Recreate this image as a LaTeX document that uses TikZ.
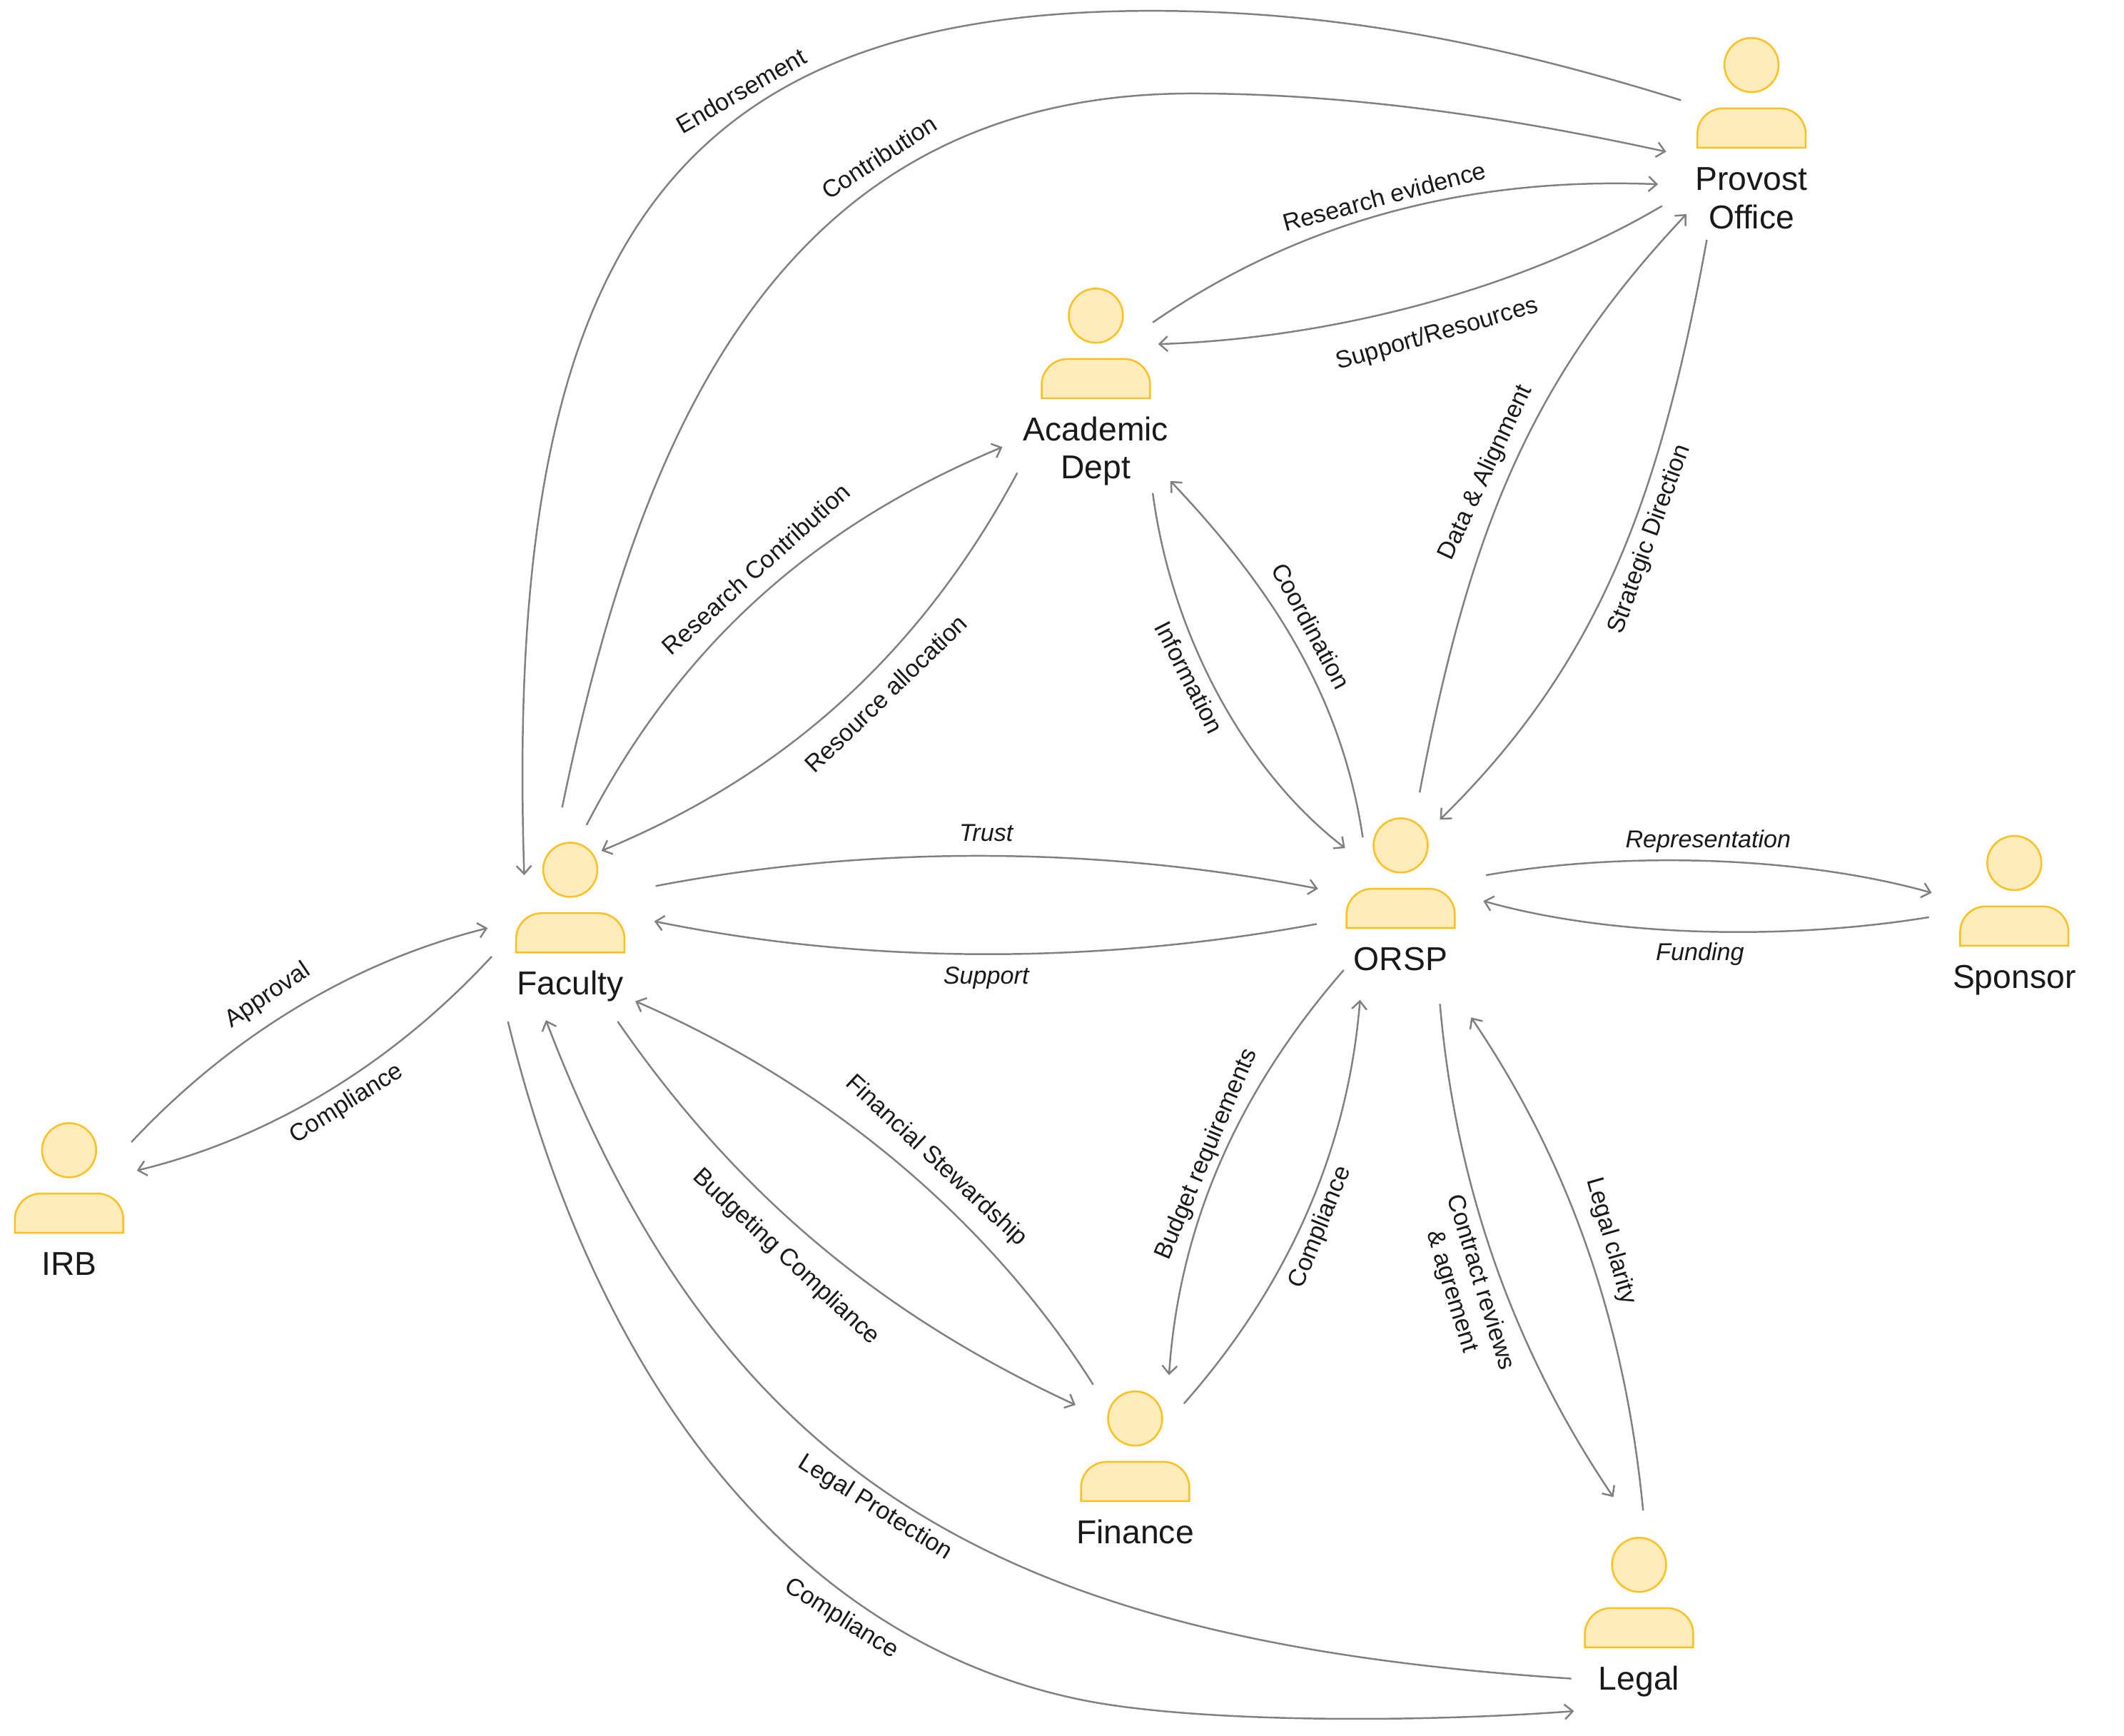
\documentclass[tikz,border=0pt]{standalone}
\usepackage{fontspec}
\setmainfont{Liberation Sans}
\usetikzlibrary{positioning, arrows.meta, calc}
\definecolor{personfill}{HTML}{FFECBD}
\definecolor{personline}{HTML}{FFC01E}
\definecolor{wiregray}{HTML}{808080}
\tikzset{
  personhead/.style={circle, draw=personline, fill=personfill, line width=1.3pt, minimum size=40pt, inner sep=0pt},
  personname/.style={below=52pt of #1, inner sep=0pt, align=center, text=black!90, font=\fontsize{24.4}{28}\selectfont, execute at begin node=\strut},
  personbody/.pic={
    \draw[draw=personline, fill=personfill, line width=1.3pt]
      (-40,61) [rounded corners=19pt] -- (-40,32) -- (40,32) [sharp corners] -- (40,61) -- cycle;
  },
  wire/.style={->, >={Straight Barb[length=6pt,width=11pt]}, wiregray, line width=1.3pt},
  flow/.style={text=black!90, inner sep=2pt, align=center, font=\fontsize{18}{22}\selectfont},
  flowit/.style={flow, font=\fontsize{18}{22}\selectfont\itshape}
}
\begin{document}
\begin{tikzpicture}[x=1pt, y=-1pt]
    \useasboundingbox (0,0) rectangle (1568,1281);
    %% people
    \node[personhead] (provost)  at (1293,  48) {};
    \node[personhead] (academic) at ( 809, 233) {};
    \node[personhead] (faculty)  at ( 421, 642) {};
    \node[personhead] (orsp)     at (1034, 624) {};
    \node[personhead] (sponsor)  at (1487, 637) {};
    \node[personhead] (irb)      at (  51, 849) {};
    \node[personhead] (finance)  at ( 838,1047) {};
    \node[personhead] (legal)    at (1210,1155) {};
    \pic at (provost)  {personbody};
    \pic at (academic) {personbody};
    \pic at (faculty)  {personbody};
    \pic at (orsp)     {personbody};
    \pic at (sponsor)  {personbody};
    \pic at (irb)      {personbody};
    \pic at (finance)  {personbody};
    \pic at (legal)    {personbody};
    \node[personname=provost, yshift=-3pt]  (provostname)  {Provost\\Office};
    \node[personname=academic, yshift=-2pt] (academicname) {Academic\\Dept};
    \node[personname=faculty]  (facultyname)  {Faculty};
    \node[personname=orsp]     (orspname)     {ORSP};
    \node[personname=sponsor]  (sponsorname)  {Sponsor};
    \node[personname=irb]      (irbname)      {IRB};
    \node[personname=finance]  (financename)  {Finance};
    \node[personname=legal]    (legalname)    {Legal};
    %% long arcs across the top
    \draw[wire] ($(provost)+(-52,26)$) .. controls (1100,30) and (980,8) .. (850,8)
                .. controls (490,8) and (372,190) .. ($(faculty)+(-34,4)$);
    \draw[wire] ($(faculty)+(-6,-46)$) .. controls (470,330) and (570,69) .. (880,69)
                .. controls (1000,69) and (1120,88) .. ($(provost)+(-63,64)$);
    %% academic dept and provost
    \draw[wire] ($(academic)+(42,5)$) .. controls (950,170) and (1070,130) .. ($(provost)+(-69,88)$);
    \draw[wire] ($(provost)+(-66,104)$) .. controls (1120,215) and (980,250) .. ($(academic)+(46,21)$);
    %% faculty and academic dept
    \draw[wire] ($(faculty)+(12,-33)$) .. controls (510,460) and (620,380) .. ($(academic)+(-69,97)$);
    \draw[wire] ($(academic)+(-58,116)$) .. controls (670,500) and (560,580) .. ($(faculty)+(23,-14)$);
    %% academic dept and orsp
    \draw[wire] ($(academic)+(42,131)$) .. controls (865,470) and (920,570) .. ($(orsp)+(-41,2)$);
    \draw[wire] ($(orsp)+(-28,-6)$) .. controls (990,510) and (935,430) .. ($(academic)+(55,122)$);
    %% orsp and provost
    \draw[wire] ($(orsp)+(14,-39)$) .. controls (1085,390) and (1130,280) .. ($(provost)+(-48,110)$);
    \draw[wire] ($(provost)+(-33,129)$) .. controls (1225,370) and (1180,490) .. ($(orsp)+(29,-19)$);
    %% horizontal pairs
    \draw[wire] ($(faculty)+(63,12)$) .. controls (640,624) and (810,624) .. ($(orsp)+(-61,32)$);
    \draw[wire] ($(orsp)+(-62,58)$) .. controls (810,712) and (640,712) .. ($(faculty)+(62,38)$);
    \draw[wire] ($(orsp)+(63,22)$) .. controls (1200,628) and (1330,632) .. ($(sponsor)+(-61,22)$);
    \draw[wire] ($(sponsor)+(-63,40)$) .. controls (1320,694) and (1190,692) .. ($(orsp)+(61,41)$);
    %% irb and faculty
    \draw[wire] ($(irb)+(46,-6)$) .. controls (170,765) and (260,710) .. ($(faculty)+(-61,43)$);
    \draw[wire] ($(faculty)+(-58,64)$) .. controls (290,785) and (200,840) .. ($(irb)+(50,15)$);
    %% faculty and finance
    \draw[wire] ($(faculty)+(35,112)$) .. controls (550,890) and (660,975) .. ($(finance)+(-44,-10)$);
    \draw[wire] ($(finance)+(-31,-25)$) .. controls (730,900) and (610,800) .. ($(faculty)+(48,97)$);
    %% orsp and finance
    \draw[wire] ($(orsp)+(-42,92)$) .. controls (910,810) and (870,910) .. ($(finance)+(25,-32)$);
    \draw[wire] ($(finance)+(36,-11)$) .. controls (950,950) and (995,850) .. ($(orsp)+(-30,114)$);
    %% orsp and legal
    \draw[wire] ($(orsp)+(29,117)$) .. controls (1075,880) and (1120,1000) .. ($(legal)+(-19,-50)$);
    \draw[wire] ($(legal)+(3,-40)$) .. controls (1200,980) and (1160,860) .. ($(orsp)+(52,127)$);
    %% long arcs across the bottom
    \draw[wire] ($(legal)+(-50,84)$) .. controls (745,1212) and (535,1098) .. ($(faculty)+(-18,111)$);
    \draw[wire] ($(faculty)+(-46,112)$) .. controls (445,1040) and (600,1215) .. (800,1255)
                .. controls (880,1271) and (1040,1272) .. ($(legal)+(-48,108)$);
    %% labels
    \node[flow, rotate=30]  (endorsement) at ( 547,  67) {Endorsement};
    \node[flow, rotate=33]  (contribution) at ( 649, 116) {Contribution};
    \node[flow, rotate=15]  (evidence) at (1022, 145) {Research evidence};
    \node[flow, rotate=16]  (resources) at (1061, 247) {Support/Resources};
    \node[flow, rotate=42]  (researchcontrib) at ( 558, 420) {Research Contribution};
    \node[flow, rotate=44]  (allocation) at ( 654, 512) {Resource allocation};
    \node[flow, rotate=-63] (information) at ( 878, 500) {Information};
    \node[flow, rotate=-62] (coordination) at ( 968, 462) {Coordination};
    \node[flow, rotate=65]  (alignment) at (1097, 349) {Data \& Alignment};
    \node[flow, rotate=70]  (direction) at (1218, 398) {Strategic Direction};
    \node[flowit] (trust) at ( 728, 615) {Trust};
    \node[flowit] (support) at ( 728, 722) {Support};
    \node[flowit] (representation) at (1261, 621) {Representation};
    \node[flowit] (funding) at (1255, 704) {Funding};
    \node[flow, rotate=34]  (approval) at ( 198, 735) {Approval};
    \node[flow, rotate=32]  (irbcompliance) at ( 256, 815) {Compliance};
    \node[flow, rotate=-43] (stewardship) at ( 691, 857) {Financial Stewardship};
    \node[flow, rotate=-43] (budgeting) at ( 580, 928) {Budgeting Compliance};
    \node[flow, rotate=67]  (requirements) at ( 891, 852) {Budget requirements};
    \node[flow, rotate=68]  (financecompliance) at ( 975, 906) {Compliance};
    \node[flow, rotate=-73] (contract) at (1082, 950) {Contract reviews\\\& agrement};
    \node[flow, rotate=-74] (clarity) at (1189, 916) {Legal clarity};
    \node[flow, rotate=-32] (protection) at ( 646,1113) {Legal Protection};
    \node[flow, rotate=-32] (legalcompliance) at ( 621,1195) {Compliance};
  \end{tikzpicture}
\end{document}
